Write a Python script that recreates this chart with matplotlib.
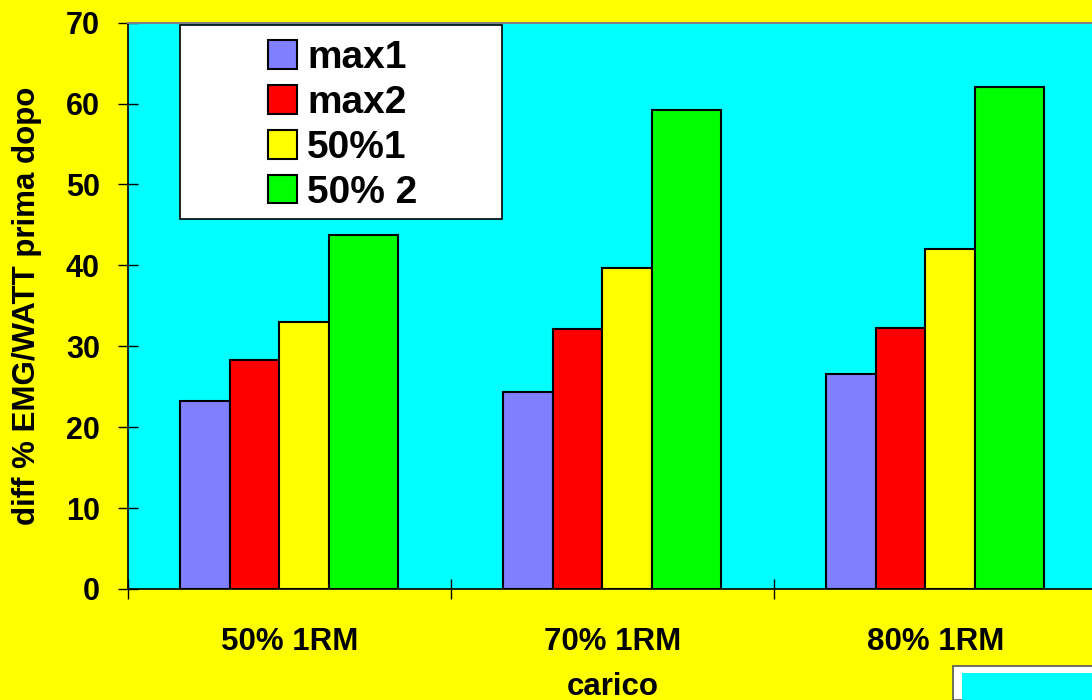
import numpy as np
import matplotlib
matplotlib.use("Agg")
import matplotlib.pyplot as plt
from matplotlib.patches import Rectangle

plt.rcParams['font.family'] = ['Liberation Sans', 'DejaVu Sans']
plt.rcParams['font.weight'] = 'bold'

categories = ['50% 1RM', '70% 1RM', '80% 1RM']
series_names = ['max1', 'max2', '50%1', '50% 2']
max1 = [23.2, 24.4, 26.6]
max2 = [28.3, 32.1, 32.3]
half1 = [33.0, 39.7, 42.0]
half2 = [43.7, 59.2, 62.0]
series = [max1, max2, half1, half2]
colors = ['#8080FF', '#FF0000', '#FFFF00', '#00FF00']
widths = [0.153, 0.153, 0.153, 0.216]

fig = plt.figure(figsize=(10.92, 7.0), dpi=100, facecolor='#FFFF00')
ax = fig.add_axes([128 / 1092, 111 / 700, 969 / 1092, 566.4 / 700])
ax.set_facecolor('#00FFFF')

x = np.arange(len(categories))
left = x - 0.338
handles = []
for vals, col, w, name in zip(series, colors, widths, series_names):
    b = ax.bar(left, vals, width=w, align='edge', color=col,
               edgecolor='black', linewidth=1.5, label=name, zorder=3)
    handles.append(b)
    left = left + w

ax.set_xlim(-0.5, len(categories) - 0.5)
ax.set_ylim(0, 70)
ax.set_yticks(np.arange(0, 71, 10))
ax.set_xticks(x)
ax.set_xticklabels(categories)
ax.set_xticks(np.arange(-0.5, len(categories), 1.0), minor=True)

ax.tick_params(axis='y', direction='inout', length=14.4, width=1,
               labelsize=22, pad=13)
ax.tick_params(axis='x', which='major', length=0, labelsize=22.5, pad=27)
ax.tick_params(axis='x', which='minor', direction='inout', length=14.4, width=1)

for s in ['left', 'bottom']:
    ax.spines[s].set_color('black')
    ax.spines[s].set_linewidth(1.2)
ax.spines['top'].set_color('#808080')
ax.spines['top'].set_linewidth(1.5)
ax.spines['right'].set_visible(False)

ax.set_ylabel('diff % EMG/WATT prima dopo', fontsize=22.5, fontweight='bold')
ax.yaxis.set_label_coords(-0.089, 0.5)
ax.set_xlabel('carico', fontsize=22.5, fontweight='bold')
ax.xaxis.set_label_coords(0.5, -0.146)

# legend frame drawn separately so the box can be sized freely
ax.add_patch(Rectangle((52 / 969, 370 / 566.4), 322 / 969, 194 / 566.4,
                       transform=ax.transAxes, facecolor='white',
                       edgecolor='black', linewidth=1.2, zorder=4))
ax.legend(handles=handles, loc='upper left', frameon=False,
          bbox_to_anchor=(140 / 969, 549 / 566.4), borderpad=0,
          borderaxespad=0, handlelength=0.745, handleheight=0.745,
          handletextpad=0.26, labelspacing=0.23,
          prop={'size': 28, 'weight': 'bold'}).set_zorder(5)

# box partly visible at the lower right corner
fig.patches.append(Rectangle((953 / 1092, 0), 200 / 1092, 34.3 / 700,
                             transform=fig.transFigure, facecolor='white',
                             edgecolor='#555555', linewidth=1.2))
fig.patches.append(Rectangle((962 / 1092, 0), 200 / 1092, 26.7 / 700,
                             transform=fig.transFigure, facecolor='#00FFFF',
                             edgecolor='none'))

fig.savefig('out.png', dpi=100, facecolor=fig.get_facecolor())
